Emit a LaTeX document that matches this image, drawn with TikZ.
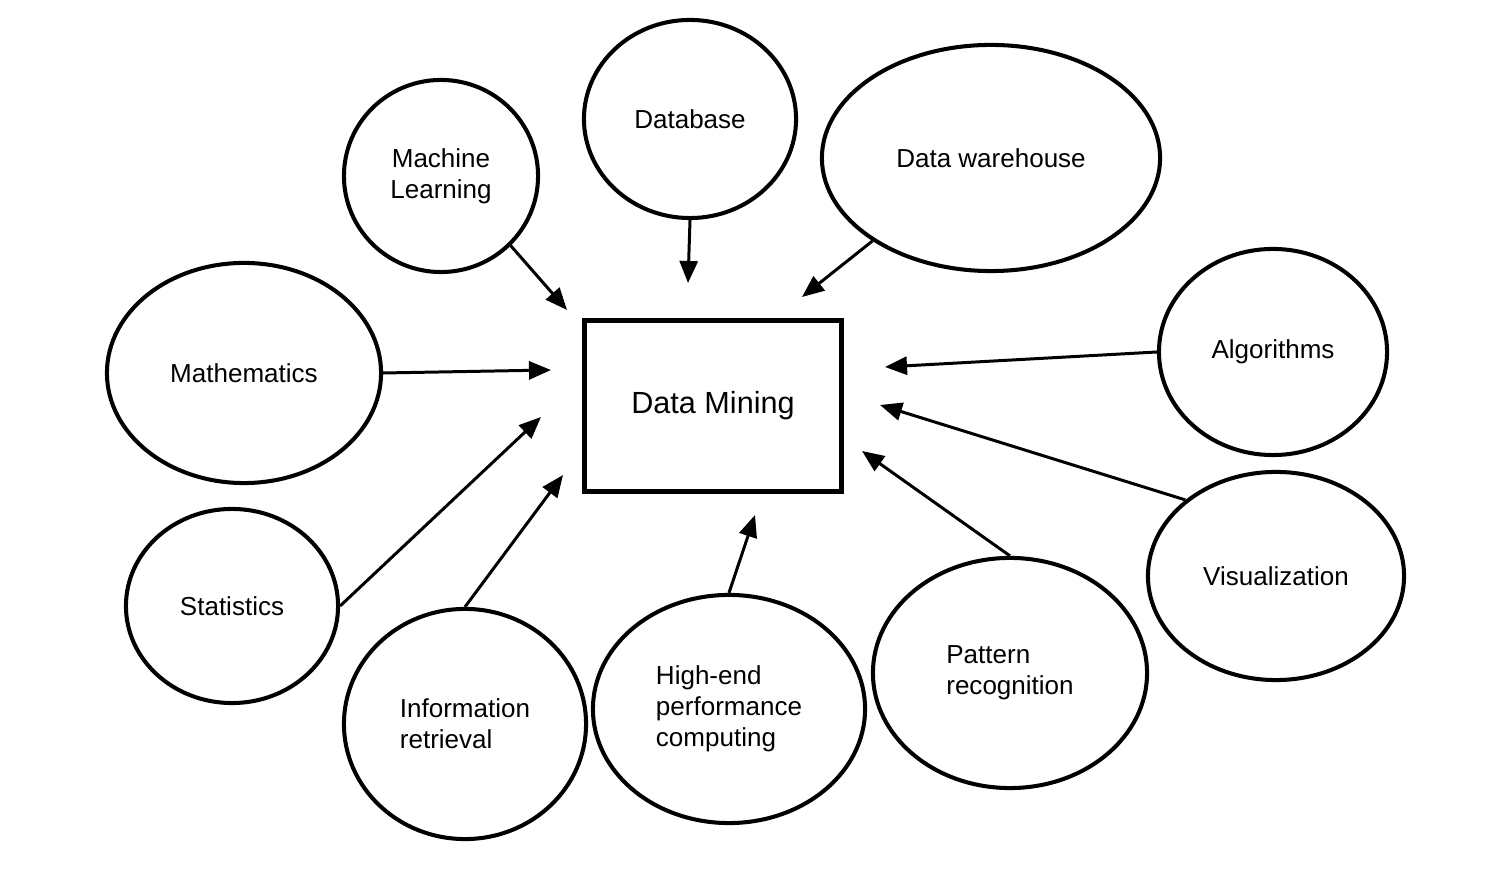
\documentclass[tikz,border=0pt]{standalone}
\usepackage{fontspec}
\setmainfont{Liberation Sans}
\usetikzlibrary{arrows.meta,shapes.geometric}

\begin{document}
\begin{tikzpicture}[
x=0.01cm, y=-0.01cm,
topic/.style={draw, ellipse, line width=1.15pt, inner sep=0pt, align=center, font=\fontsize{7.4}{8.8}\selectfont},
core/.style={draw, rectangle, line width=1.4pt, minimum width=2.56cm, minimum height=1.71cm, font=\fontsize{8.7}{10}\selectfont},
arrow/.style={-{Triangle[length=0.22cm, width=0.18cm]}, line width=0.85pt}
]
\useasboundingbox (0,0) rectangle (1488,880);

\node[core] (dm) at (713,406) {Data Mining};

\node[topic, minimum width=1.94cm, minimum height=1.92cm] (ml) at (441,176) {Machine\\Learning};
\node[topic, minimum width=2.12cm, minimum height=1.98cm] (db) at (690,119) {Database};
\node[topic, minimum width=3.38cm, minimum height=2.26cm] (dw) at (991,158) {Data warehouse};
\node[topic, minimum width=2.74cm, minimum height=2.2cm] (math) at (244,373) {Mathematics};
\node[topic, minimum width=2.28cm, minimum height=2.06cm] (algo) at (1273,352) {Algorithms};
\node[topic, minimum width=2.12cm, minimum height=1.94cm] (stat) at (232,606) {Statistics};
\node[topic, minimum width=2.42cm, minimum height=2.3cm, align=left] (ir) at (465,724) {Information\\retrieval};
\node[topic, minimum width=2.72cm, minimum height=2.28cm, align=left] (hpc) at (729,709) {High-end\\performance\\computing};
\node[topic, minimum width=2.74cm, minimum height=2.3cm, align=left] (pr) at (1010,673) {Pattern\\recognition};
\node[topic, minimum width=2.56cm, minimum height=2.08cm] (vis) at (1276,576) {Visualization};

% arrow heads stop short of the box
\coordinate (toML) at (567,310);
\coordinate (toDB) at (688,283);
\coordinate (toDW) at (802,297);
\coordinate (toMath) at (551,370);
\coordinate (toAlgo) at (885,367);
\coordinate (toStat) at (541,417);
\coordinate (toIR) at (563,475);
\coordinate (toHPC) at (755,515);
\coordinate (toPR) at (862,451);
\coordinate (toVis) at (880,405);

\draw[arrow] (ml.-45) -- (toML);
\draw[arrow] (db.south) -- (toDB);
\draw[arrow] (dw.215) -- (toDW);
\draw[arrow] (math.east) -- (toMath);
\draw[arrow] (algo.west) -- (toAlgo);
\draw[arrow] (stat.east) -- (toStat);
\draw[arrow] (ir.north) -- (toIR);
\draw[arrow] (hpc.north) -- (toHPC);
\draw[arrow] (pr.north) -- (toPR);
\draw[arrow] (vis.140) -- (toVis);
\end{tikzpicture}
\end{document}
